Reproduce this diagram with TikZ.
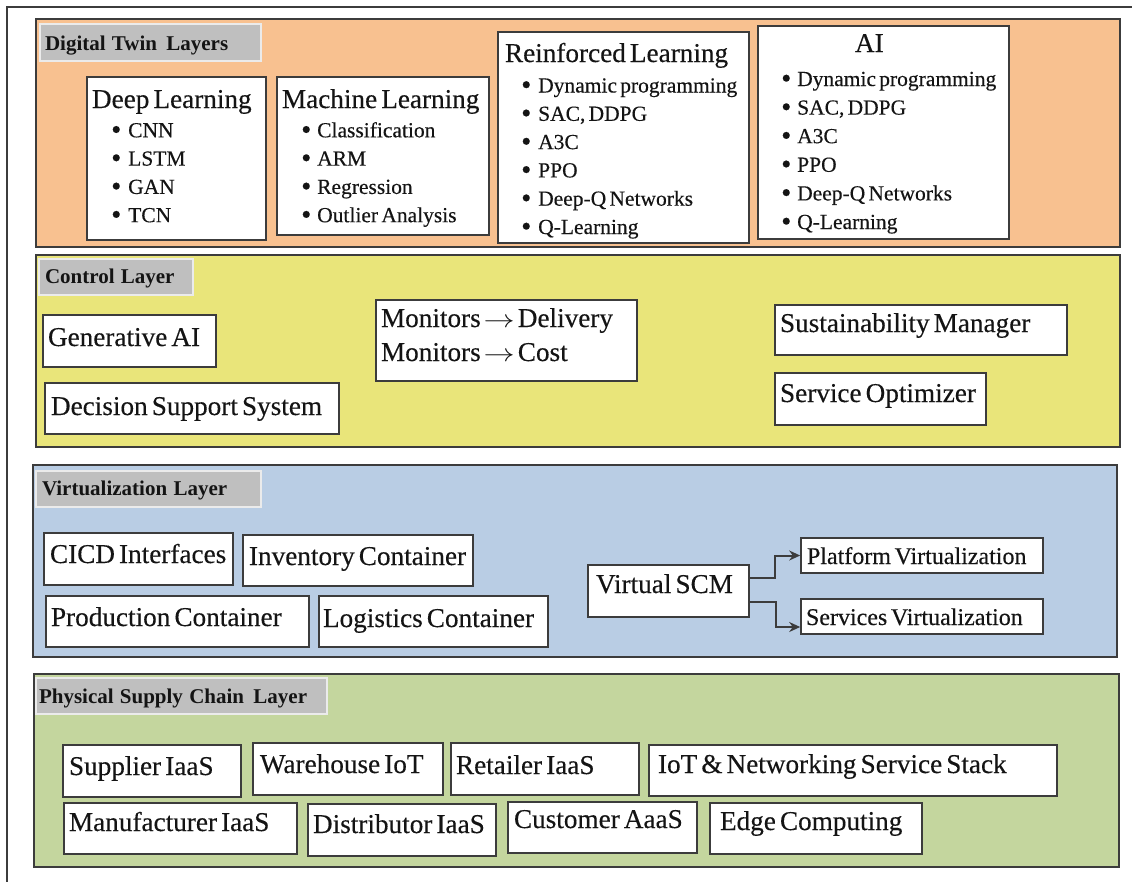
\documentclass[tikz,border=0pt]{standalone}
\usepackage{graphicx}
\usepackage{fontspec}
\setmainfont{Liberation Serif}[WordSpace=0.6, FakeBold=0.3,
  BoldFeatures={WordSpace=1.2, FakeBold=0}]
\usetikzlibrary{arrows.meta}

\definecolor{twinfill}{RGB}{248,193,144}
\definecolor{ctrlfill}{RGB}{233,229,122}
\definecolor{virtfill}{RGB}{185,205,228}
\definecolor{physfill}{RGB}{196,214,158}
\definecolor{tagfill}{RGB}{191,191,191}
\definecolor{tagedge}{RGB}{235,235,235}
\definecolor{edge}{RGB}{60,60,60}
\definecolor{ink}{RGB}{20,20,20}

\tikzset{
  frame/.style={draw=edge, line width=1.5pt},
  layer/.style={draw=edge, line width=2pt, inner sep=0pt},
  tag/.style={draw=tagedge, fill=tagfill, line width=1.5pt, inner ysep=0pt,
    text=ink, font=\bfseries\fontsize{21}{25}\selectfont},
  box/.style={draw=edge, fill=white, line width=1.6pt, inner ysep=0pt,
    text=ink, font=\fontsize{27.2}{34}\selectfont},
  smallbox/.style={box, font=\fontsize{24}{28}\selectfont},
  headbox/.style={box, font=\fontsize{27.2}{30}\selectfont},
  item/.style={anchor=base west, inner sep=0pt, text=ink,
    font=\fontsize{21.5}{26}\selectfont},
  conn/.style={draw=edge, line width=2pt, -{Stealth[length=11pt,width=10pt]}},
}

% layer panel: style, name, x1, y1, x2, y2 (pixel units, y downwards)
\newcommand\lay[6]{%
  \pgfmathsetmacro\lyw{#5-#3}%
  \pgfmathsetmacro\lyh{#6-#4}%
  \node[layer, #1, minimum width=\lyw, minimum height=\lyh] (#2)
    at ({(#3+#5)/2},{(#4+#6)/2}) {};}

% text box: style, name, x1, y1, x2, y2, first baseline, left padding, text
\newcommand\bx[9]{%
  \pgfmathsetmacro\bxw{#5-#3}%
  \pgfmathsetmacro\bxh{#6-#4}%
  \pgfmathsetmacro\bxtw{#5-#3-2*#8}%
  \pgfmathsetmacro\bxth{#7-#4}%
  \pgfmathsetmacro\bxtd{#6-#7}%
  \node[#1, inner xsep=#8, minimum width=\bxw, minimum height=\bxh,
    text height=\bxth pt, text depth=\bxtd pt] (#2)
    at ({(#3+#5)/2},{(#4+#6)/2})
    {\parbox[t]{\bxtw pt}{\spaceskip=0pt\xspaceskip=0pt\raggedright
      \hyphenpenalty=10000 \hbadness=10000 \hfuzz=20pt #9}};}

% list bullet in a slot of the given width
\newcommand\bul[1]{\makebox[#1pt][l]{\raisebox{-1.8pt}{\fontsize{29}{29}\selectfont\textbullet}}}
\newcommand\mto{\hspace{3pt}\scalebox{1.25}[1]{$\rightarrow$}\hspace{3pt}}

\begin{document}
\begin{tikzpicture}[x=1pt, y=-1pt]
  \useasboundingbox (0,0) rectangle (1132,881);
  \clip (0,0) rectangle (1132,881);
  \draw[frame] (7,7) rectangle (1150,900);

  % ---------- layer panels ----------
  \lay{fill=twinfill}{twin}{36}{19}{1120}{247}
  \lay{fill=ctrlfill}{ctrl}{36}{255}{1120}{447}
  \lay{fill=virtfill}{virt}{33}{465}{1117}{657}
  \lay{fill=physfill}{phys}{34}{674}{1119}{867}

  \bx{tag}{twintag}{40}{24}{261}{61}{50}{5}{Digital Twin\hspace{3pt} Layers}
  \bx{tag}{ctrltag}{39}{259}{193}{295}{283}{6}{Control Layer}
  \bx{tag}{virttag}{36}{471}{261}{507}{495}{6}{Virtualization Layer}
  \bx{tag}{phystag}{36}{678}{327}{714}{703}{3}{Physical Supply Chain\hspace{3pt} Layer}

  % ---------- digital twin layer ----------
  \bx{headbox}{dl}{87}{77}{266}{240}{108}{5}{Deep Learning}
  \foreach \t [count=\i] in {CNN, LSTM, GAN, TCN}
    \node[item] (dl-\i) at (111,{137.3+28.3*(\i-1)}) {\bul{17}\t};

  \bx{headbox}{ml}{277}{77}{489}{235}{108}{5}{Machine Learning}
  \foreach \t [count=\i] in {Classification, ARM, Regression, Outlier Analysis}
    \node[item] (ml-\i) at (301,{137.3+28.3*(\i-1)}) {\bul{16}\t};

  \bx{headbox}{rl}{498}{32}{749}{243}{62}{7}{Reinforced Learning}
  \foreach \t [count=\i] in {Dynamic programming, {SAC, DDPG}, A3C, PPO,
      Deep-Q Networks, Q-Learning}
    \node[item] (rl-\i) at (521,{92.5+28.3*(\i-1)}) {\bul{17}\t};

  \bx{headbox}{ai}{758}{26}{1009}{239}{52}{97}{AI}
  \foreach \t [count=\i] in {Dynamic programming, {SAC, DDPG}, A3C, PPO,
      Deep-Q Networks, Q-Learning}
    \node[item] (ai-\i) at (781,{86+28.6*(\i-1)}) {\bul{16}\t};

  % ---------- control layer ----------
  \bx{box}{genai}{43}{315}{216}{367}{346}{5}{Generative AI}
  \bx{box}{dss}{45}{383}{339}{434}{415}{6}{Decision Support System}
  \bx{box}{mon}{376}{300}{637}{381}{327}{5}%
    {Monitors\mto Delivery\\Monitors\mto Cost}
  \bx{box}{sus}{775}{305}{1067}{355}{332}{5}{Sustainability Manager}
  \bx{box}{opt}{775}{373}{986}{425}{402}{5}{Service Optimizer}

  % ---------- virtualization layer ----------
  \bx{box}{cicd}{44}{533}{233}{585}{563}{6}{\mbox{CICD Interfaces}}
  \bx{box}{inv}{243}{535}{473}{586}{565}{6}{\mbox{Inventory Container}}
  \bx{box}{prod}{46}{596}{309}{647}{626}{5}{Production Container}
  \bx{box}{logi}{319}{596}{548}{647}{627}{4}{Logistics Container}
  \bx{box}{vscm}{588}{565}{749}{617}{593}{8}{Virtual SCM}
  \bx{smallbox}{pv}{801}{538}{1043}{573}{564}{6}{Platform Virtualization}
  \bx{smallbox}{sv}{801}{599}{1043}{634}{625}{5}{Services Virtualization}

  \draw[conn] ([yshift=13pt]vscm.east) -- ++(25,0) |- (pv.west);
  \draw[conn] ([yshift=-11pt]vscm.east) -- ++(26,0) |- ([yshift=-10.5pt]sv.west);

  % ---------- physical supply chain layer ----------
  \bx{box}{sup}{63}{745}{241}{797}{775}{6}{Supplier IaaS}
  \bx{box}{wh}{253}{743}{443}{795}{773}{7}{Warehouse IoT}
  \bx{box}{ret}{451}{743}{639}{795}{774}{5}{Retailer IaaS}
  \bx{box}{iot}{649}{745}{1057}{796}{773}{9}{IoT \& Networking Service Stack}
  \bx{box}{man}{64}{803}{297}{854}{831}{5}{Manufacturer IaaS}
  \bx{box}{dist}{308}{804}{496}{856}{833}{5}{Distributor IaaS}
  \bx{box}{cust}{508}{802}{697}{853}{828}{6}{Customer AaaS}
  \bx{box}{edgec}{710}{803}{922}{854}{830}{10}{Edge Computing}
\end{tikzpicture}
\end{document}
